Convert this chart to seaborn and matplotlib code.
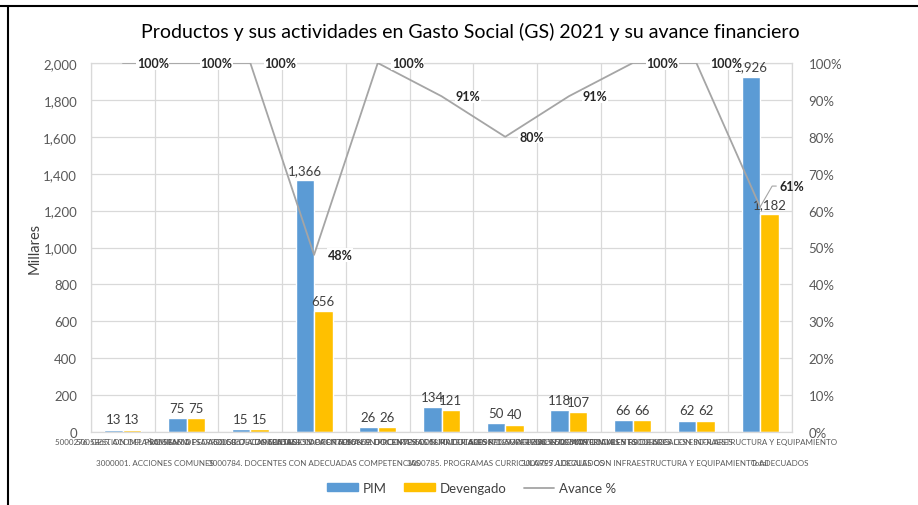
import matplotlib
matplotlib.use("Agg")
import matplotlib.pyplot as plt
import seaborn as sns
import pandas as pd
import numpy as np
from matplotlib.lines import Line2D
from matplotlib.patches import Patch
from matplotlib.ticker import MultipleLocator, PercentFormatter, FuncFormatter
from matplotlib.transforms import blended_transform_factory

sns.set_theme(style="white")
plt.rcParams["font.family"] = ["Lato", "DejaVu Sans"]

# Activities (inner level of the category axis); the last column is the total
actividades = [
    "5000276. GESTION DEL PROGRAMA",
    "5005865. ACOMPAÑAMIENTO PEDAGOGICO A DOCENTES",
    "5005866. DESARROLLO DE CAPACIDADES DOCENTES",
    "5005867. CONTRATACION OPORTUNA DE DOCENTES",
    "5005868. CAPACITACION EN PROGRAMAS CURRICULARES",
    "5005869. DOCENTES CON MATERIALES PEDAGOGICOS",
    "5005870. DOTACION DE MATERIAL EDUCATIVO",
    "5005871. SUPERVISION DE MATERIALES Y RECURSOS",
    "5005872. MANTENIMIENTO DE LOCALES ESCOLARES",
    "5006118. LOCALES ESCOLARES CON INFRAESTRUCTURA Y EQUIPAMIENTO",
    "",
]

# Products (outer level of the category axis) and the columns each one covers
productos = [
    "3000001. ACCIONES COMUNES",
    "3000784. DOCENTES CON ADECUADAS COMPETENCIAS",
    "3000785. PROGRAMAS CURRICULARES ADECUADOS",
    "3000797. LOCALES CON INFRAESTRUCTURA Y EQUIPAMIENTO ADECUADOS",
    "Total",
]
producto_desde = [0, 2, 5, 8, 10]
producto_hasta = [1, 4, 7, 9, 10]

# Amounts in thousands
pim = [13, 75, 15, 1366, 26, 134, 50, 118, 66, 62, 1926]
devengado = [13, 75, 15, 656, 26, 121, 40, 107, 66, 62, 1182]
avance = [1.00, 1.00, 1.00, 0.48, 1.00, 0.91, 0.80, 0.91, 1.00, 1.00, 0.61]

series = ["PIM", "Devengado"]
colores = ["#5B9BD5", "#FFC000"]
gris_linea = "#A5A5A5"
gris_grid = "#D9D9D9"
texto = "#404040"

n = len(pim)
idx = list(range(n))
df = pd.DataFrame({
    "idx": idx * 2,
    "serie": [series[0]] * n + [series[1]] * n,
    "valor": pim + devengado,
})

fig = plt.figure(figsize=(9.18, 5.06), dpi=100)
W, H = 918, 506
ax = fig.add_axes([91 / W, 73 / H, 701 / W, 369 / H])

sns.barplot(data=df, x="idx", y="valor", hue="serie", hue_order=series,
            palette=colores, width=0.58, saturation=1, errorbar=None,
            legend=False, ax=ax, zorder=2)

ax.set_xlim(-0.5, n - 0.5)
ax.set_ylim(0, 2000)
ax.yaxis.set_major_locator(MultipleLocator(200))
ax.yaxis.set_major_formatter(FuncFormatter(lambda v, p: f"{v:,.0f}"))
ax.set_xticks([])
ax.set_xticks(np.arange(-0.5, n, 1), minor=True)
ax.tick_params(axis="x", which="minor", length=42, width=0.8, color=gris_grid,
               direction="out", labelbottom=False)
ax.tick_params(axis="y", length=0, pad=10, labelsize=9.5, labelcolor="#595959")
ax.grid(axis="y", color=gris_grid, lw=0.9)
ax.grid(axis="x", which="minor", color=gris_grid, lw=0.9)
ax.set_axisbelow(True)
for s in ax.spines.values():
    s.set_color(gris_grid)
    s.set_linewidth(0.9)
ax.set_xlabel("")
ax.set_ylabel("Millares", fontsize=10.5, color=texto, labelpad=1)

for cont in ax.containers:
    ax.bar_label(cont, fmt="{:,.0f}", padding=3, fontsize=9.5, color=texto)

# Category axis labels in two rows
tr = blended_transform_factory(ax.transData, ax.transAxes)
for i, lab in enumerate(actividades):
    ax.text(i, -0.025, lab, transform=tr, ha="center", va="center",
            fontsize=5.8, color="#595959", clip_on=False)
for lab, a, b in zip(productos, producto_desde, producto_hasta):
    ax.text((a + b) / 2, -0.082, lab, transform=tr, ha="center", va="center",
            fontsize=5.8, color="#595959", clip_on=False)

# Financial progress on the secondary axis
ax2 = ax.twinx()
sns.lineplot(x=idx, y=avance, ax=ax2, color=gris_linea, lw=1.3, zorder=3)
ax2.set_ylim(0, 1)
ax2.set_xlim(-0.5, n - 0.5)
ax2.yaxis.set_major_locator(MultipleLocator(0.1))
ax2.yaxis.set_major_formatter(PercentFormatter(1, decimals=0))
ax2.tick_params(axis="y", length=0, pad=12, labelsize=9.5, labelcolor="#595959")
ax2.grid(False)
for s in ax2.spines.values():
    s.set_visible(False)
ax2.set_ylabel("")

for i, v in enumerate(avance):
    if i == n - 1:
        ax2.annotate(f"{v:.0%}", xy=(i, v), xytext=(14, 15), textcoords="offset points",
                     ha="left", va="center", fontsize=9, fontweight="bold", color="#262626",
                     arrowprops=dict(arrowstyle="-", color=gris_linea, lw=0.8,
                                     shrinkA=0, shrinkB=0,
                                     connectionstyle="angle,angleA=0,angleB=60,rad=0"))
    else:
        ax2.annotate(f"{v:.0%}", xy=(i, v), xytext=(10, 0), textcoords="offset points",
                     ha="left", va="center", fontsize=9, fontweight="bold", color="#262626",
                     bbox=dict(boxstyle="square,pad=0.05", fc="white", ec="none"))

fig.text(470 / W, 1 - 32 / H,
         "Productos y sus actividades en Gasto Social (GS) 2021 y su avance financiero",
         ha="center", va="center", fontsize=14, color="#000000")

handles = [Patch(color=colores[0]), Patch(color=colores[1]),
           Line2D([], [], color=gris_linea, lw=1.3)]
fig.legend(handles, series + ["Avance %"], loc="center",
           bbox_to_anchor=(472 / W, 17 / H), ncol=3, frameon=False, fontsize=9.5,
           handlelength=2.3, handleheight=0.55, columnspacing=1.3, handletextpad=0.4,
           labelcolor=texto)

# Chart frame
fig.add_artist(Line2D([0, 1], [1 - 7 / H] * 2, transform=fig.transFigure,
                      color="black", lw=1.5))
fig.add_artist(Line2D([8 / W] * 2, [0, 1 - 7 / H], transform=fig.transFigure,
                      color="black", lw=1.5))

fig.savefig("out.png", dpi=100)
